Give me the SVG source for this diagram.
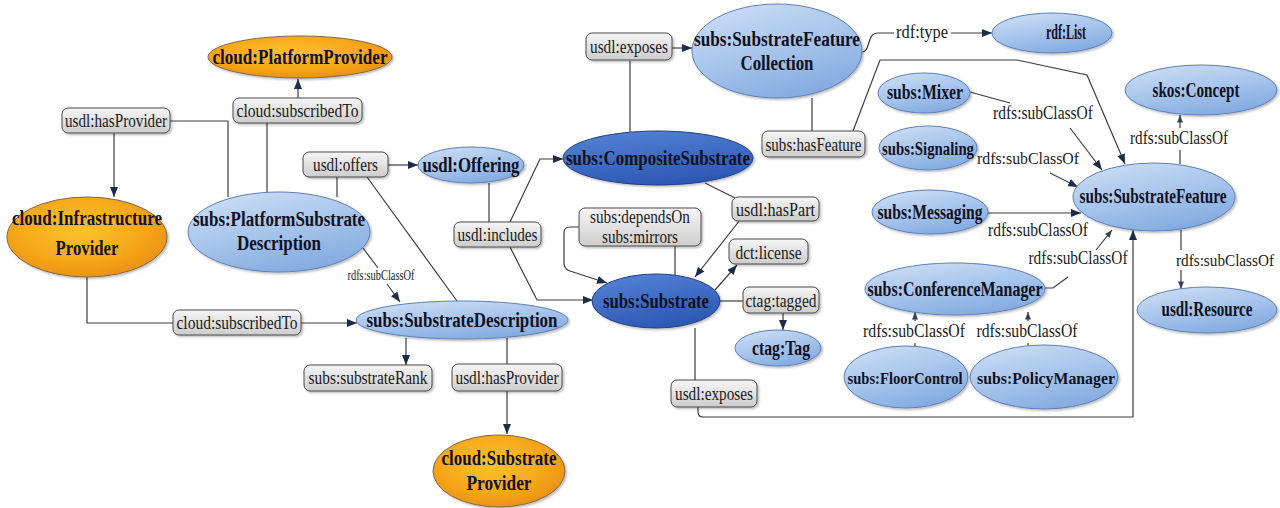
<svg xmlns="http://www.w3.org/2000/svg" width="1280" height="508" viewBox="0 0 1280 508">
  <style>
    .edge { fill: none; stroke: #3c3c3c; stroke-width: 1.2; }
    .arr { marker-end: url(#head); }
    .arrs { marker-end: url(#headS); }
    .lbl rect { fill: url(#gLbl); stroke: #4a4a4a; stroke-width: 1; filter: url(#shadow); }
    .lt { font-family: 'Liberation Serif', 'DejaVu Serif', 'Times New Roman', serif; font-size: 18px; fill: #1a1a1a; text-anchor: middle; }
    .st { font-family: 'Liberation Serif', 'DejaVu Serif', 'Times New Roman', serif; font-size: 14px; fill: #1a1a1a; text-anchor: middle; }
    .nt { font-family: 'Liberation Serif', 'DejaVu Serif', 'Times New Roman', serif; font-size: 20px; font-weight: bold; fill: #111122; text-anchor: middle; }
    .tight { font-size: 18px; }
    .tighter { font-size: 17px; }
    .orange { fill: url(#gOrange); stroke: #7d6a4c; stroke-width: 1; filter: url(#shadow); }
    .light { fill: url(#gLight); stroke: #5f80b6; stroke-width: 1; filter: url(#shadow); }
    .dark { fill: url(#gDark); stroke: #22407e; stroke-width: 1; filter: url(#shadow); }
  </style>
  <defs>
    <marker id="head" viewBox="0 0 10 8" refX="10" refY="4" markerWidth="10" markerHeight="8" markerUnits="userSpaceOnUse" orient="auto">
      <path d="M0,0 L10,4 L0,8 z" fill="#1c2c48"/>
    </marker>
    <marker id="headS" viewBox="0 0 10 8" refX="10" refY="4" markerWidth="8" markerHeight="6" markerUnits="userSpaceOnUse" orient="auto">
      <path d="M0,0 L10,4 L0,8 z" fill="#3a4250"/>
    </marker>
    <linearGradient id="gLbl" x1="0" y1="0" x2="0" y2="1">
      <stop offset="0" stop-color="#f6f6f6"/>
      <stop offset="1" stop-color="#cdcdcd"/>
    </linearGradient>
    <linearGradient id="gLight" x1="0.1" y1="0" x2="0.6" y2="1">
      <stop offset="0" stop-color="#cddff5"/>
      <stop offset="0.55" stop-color="#a6c4ec"/>
      <stop offset="1" stop-color="#84abe0"/>
    </linearGradient>
    <linearGradient id="gDark" x1="0.1" y1="0" x2="0.5" y2="1">
      <stop offset="0" stop-color="#5583d6"/>
      <stop offset="1" stop-color="#2d58b4"/>
    </linearGradient>
    <radialGradient id="gOrange" cx="0.45" cy="0.4" r="0.65">
      <stop offset="0" stop-color="#fcc22e"/>
      <stop offset="0.6" stop-color="#f6a81a"/>
      <stop offset="1" stop-color="#e88e10"/>
    </radialGradient>
    <filter id="shadow" x="-10%" y="-10%" width="125%" height="130%">
      <feDropShadow dx="1.5" dy="1.5" stdDeviation="1.2" flood-color="#000" flood-opacity="0.28"/>
    </filter>
  </defs>

  <rect width="1280" height="508" fill="#ffffff"/>

  <!-- connectors -->
  <g id="connectors">
    <path class="edge" d="M228,197 V121 H170"/>
    <path class="edge arr" d="M114,133 V197"/>
    <path class="edge" d="M267,192 V123"/>
    <path class="edge arr" d="M298,98 V79"/>
    <path class="edge" d="M337,197 V177"/>
    <path class="edge arr" d="M388,165 H418"/>
    <path class="edge" d="M367,177 L457,301"/>
    <path class="edge" d="M363,248 L378,268"/>
    <path class="edge arr" d="M387,284 L400,302"/>
    <path class="edge" d="M87,277 V323 H173"/>
    <path class="edge arr" d="M301,323 H357"/>
    <path class="edge arr" d="M406,338 V365"/>
    <path class="edge" d="M507,338 V364"/>
    <path class="edge arr" d="M507,391 V434"/>
    <path class="edge" d="M489,183 V222"/>
    <path class="edge arr" d="M510,222 L540,159 H563"/>
    <path class="edge arr" d="M510,247 L537,300 H593"/>
    <path class="edge" d="M630,132 V61"/>
    <path class="edge arr" d="M672,48 H692"/>
    <path class="edge" d="M705,183 L735,198"/>
    <path class="edge arr" d="M740,220 L695,277"/>
    <path class="edge" d="M675,275 V246"/>
    <path class="edge arr" d="M579,227 H570 Q564,227 564,233 V263 Q564,269 570,271 L607,283"/>
    <path class="edge arr" d="M715,290 L737,265"/>
    <path class="edge" d="M720,301 H743"/>
    <path class="edge arr" d="M783,313 V330"/>
    <path class="edge" d="M695,328 V380"/>
    <path class="edge arr" d="M698,407 V412 Q698,417 703,417 H1133 V230"/>
    <path class="edge" d="M812,98 V131"/>
    <path class="edge arr" d="M853,131 L880,60 H1017 L1087,75 L1125,164"/>
    <path class="edge" d="M862,52 C871,52 866,33 878,33 H894"/>
    <path class="edge arr" d="M951,33 H992"/>
    <path class="edge" d="M970,92 L1010,103"/>
    <path class="edge arr" d="M1070,128 L1102,170"/>
    <path class="edge arr" d="M1050,173 L1078,187"/>
    <path class="edge arr" d="M988,213 H1081"/>
    <path class="edge" d="M1045,288 H1053 L1068,277"/>
    <path class="edge arrs" d="M1096,250 L1112,230"/>
    <path class="edge" d="M915,353 V343"/>
    <path class="edge arrs" d="M915,321 V312"/>
    <path class="edge" d="M1028,353 V343"/>
    <path class="edge arrs" d="M1028,321 V312"/>
    <path class="edge" d="M1180,164 V150"/>
    <path class="edge arrs" d="M1180,128 V115"/>
    <path class="edge" d="M1181,230 V250"/>
    <path class="edge arrs" d="M1181,270 V289"/>
  </g>

  <!-- property labels -->
  <g id="label-hasProvider-1" class="lbl"><rect x="62" y="108" width="108" height="25" rx="6"/><text class="lt" x="116" y="126.5" textLength="102" lengthAdjust="spacingAndGlyphs">usdl:hasProvider</text></g>
  <g id="label-subscribedTo-1" class="lbl"><rect x="233" y="98" width="129" height="25" rx="6"/><text class="lt" x="297.5" y="116.5" textLength="122" lengthAdjust="spacingAndGlyphs">cloud:subscribedTo</text></g>
  <g id="label-offers" class="lbl"><rect x="303" y="152" width="85" height="25" rx="6"/><text class="lt" x="345.5" y="170.5" textLength="65" lengthAdjust="spacingAndGlyphs">usdl:offers</text></g>
  <g id="label-subscribedTo-2" class="lbl"><rect x="173" y="310" width="128" height="25" rx="6"/><text class="lt" x="237" y="328.5" textLength="121" lengthAdjust="spacingAndGlyphs">cloud:subscribedTo</text></g>
  <g id="label-substrateRank" class="lbl"><rect x="304" y="365" width="128" height="26" rx="6"/><text class="lt" x="368" y="383.5" textLength="119" lengthAdjust="spacingAndGlyphs">subs:substrateRank</text></g>
  <g id="label-hasProvider-2" class="lbl"><rect x="452" y="364" width="110" height="27" rx="6"/><text class="lt" x="507" y="383.5" textLength="103" lengthAdjust="spacingAndGlyphs">usdl:hasProvider</text></g>
  <g id="label-includes" class="lbl"><rect x="454" y="222" width="87" height="25" rx="6"/><text class="lt" x="497.5" y="240.5" textLength="80" lengthAdjust="spacingAndGlyphs">usdl:includes</text></g>
  <g id="label-exposes-1" class="lbl"><rect x="586" y="33" width="86" height="27" rx="6"/><text class="lt" x="629" y="52.5" textLength="78" lengthAdjust="spacingAndGlyphs">usdl:exposes</text></g>
  <g id="label-hasFeature" class="lbl"><rect x="762" y="131" width="103" height="26" rx="6"/><text class="lt" x="813.5" y="150.5" textLength="96" lengthAdjust="spacingAndGlyphs">subs:hasFeature</text></g>
  <g id="label-hasPart" class="lbl"><rect x="732" y="197" width="87" height="24" rx="6"/><text class="lt" x="775.5" y="215.5" textLength="79" lengthAdjust="spacingAndGlyphs">usdl:hasPart</text></g>
  <g id="label-dependsOn" class="lbl"><rect x="579" y="208" width="122" height="38" rx="6"/><text class="lt" x="640" y="222.5" textLength="100" lengthAdjust="spacingAndGlyphs">subs:dependsOn</text><text class="lt" x="640" y="242.5" textLength="76" lengthAdjust="spacingAndGlyphs">subs:mirrors</text></g>
  <g id="label-license" class="lbl"><rect x="729" y="239" width="79" height="25" rx="6"/><text class="lt" x="768.5" y="258.5" textLength="66" lengthAdjust="spacingAndGlyphs">dct:license</text></g>
  <g id="label-tagged" class="lbl"><rect x="743" y="287" width="76" height="26" rx="6"/><text class="lt" x="781" y="306.5" textLength="71" lengthAdjust="spacingAndGlyphs">ctag:tagged</text></g>
  <g id="label-exposes-2" class="lbl"><rect x="671" y="380" width="86" height="27" rx="6"/><text class="lt" x="714" y="399.5" textLength="78" lengthAdjust="spacingAndGlyphs">usdl:exposes</text></g>

  <!-- plain edge texts -->
  <g id="edge-texts">
    <text class="st" x="381" y="280" textLength="67" lengthAdjust="spacingAndGlyphs">rdfs:subClassOf</text>
    <text class="lt" x="922" y="38" textLength="52" lengthAdjust="spacingAndGlyphs">rdf:type</text>
    <text class="lt" x="1043" y="119" textLength="100" lengthAdjust="spacingAndGlyphs">rdfs:subClassOf</text>
    <text class="lt" x="1028" y="164" style="font-size:16px" textLength="102" lengthAdjust="spacingAndGlyphs">rdfs:subClassOf</text>
    <text class="lt" x="1179" y="144" textLength="98" lengthAdjust="spacingAndGlyphs">rdfs:subClassOf</text>
    <text class="lt" x="1038" y="236" textLength="100" lengthAdjust="spacingAndGlyphs">rdfs:subClassOf</text>
    <text class="lt" x="1078" y="264" textLength="99" lengthAdjust="spacingAndGlyphs">rdfs:subClassOf</text>
    <text class="lt" x="1225" y="266" style="font-size:16px" textLength="98" lengthAdjust="spacingAndGlyphs">rdfs:subClassOf</text>
    <text class="lt" x="914" y="337" textLength="102" lengthAdjust="spacingAndGlyphs">rdfs:subClassOf</text>
    <text class="lt" x="1027" y="337" textLength="101" lengthAdjust="spacingAndGlyphs">rdfs:subClassOf</text>
  </g>

  <!-- nodes -->
  <g id="node-PlatformProvider"><ellipse class="orange" cx="300" cy="57" rx="92" ry="21"/><text class="nt" x="300" y="63.5" textLength="175" lengthAdjust="spacingAndGlyphs">cloud:PlatformProvider</text></g>
  <g id="node-InfrastructureProvider"><ellipse class="orange" cx="87" cy="237" rx="80" ry="40"/><text class="nt" x="87" y="225" textLength="150" lengthAdjust="spacingAndGlyphs">cloud:Infrastructure</text><text class="nt" x="87" y="255" textLength="63" lengthAdjust="spacingAndGlyphs">Provider</text></g>
  <g id="node-PlatformSubstrateDescription"><ellipse class="light" cx="279" cy="232" rx="91" ry="40"/><text class="nt" x="279" y="226" textLength="172" lengthAdjust="spacingAndGlyphs">subs:PlatformSubstrate</text><text class="nt" x="279" y="250" textLength="84" lengthAdjust="spacingAndGlyphs">Description</text></g>
  <g id="node-Offering"><ellipse class="light" cx="471" cy="165" rx="53" ry="18"/><text class="nt" x="471" y="171.5" textLength="97" lengthAdjust="spacingAndGlyphs">usdl:Offering</text></g>
  <g id="node-CompositeSubstrate"><ellipse class="dark" cx="658" cy="158" rx="95" ry="27"/><text class="nt" x="658" y="165" textLength="184" lengthAdjust="spacingAndGlyphs">subs:CompositeSubstrate</text></g>
  <g id="node-SubstrateFeatureCollection"><ellipse class="light" cx="777" cy="51" rx="85" ry="47"/><text class="nt" x="777" y="46" textLength="166" lengthAdjust="spacingAndGlyphs">subs:SubstrateFeature</text><text class="nt" x="777" y="70" textLength="73" lengthAdjust="spacingAndGlyphs">Collection</text></g>
  <g id="node-List"><ellipse class="light" cx="1052" cy="33" rx="60" ry="20"/><text class="nt" x="1066" y="39" textLength="40" lengthAdjust="spacingAndGlyphs">rdf:List</text></g>
  <g id="node-Mixer"><ellipse class="light" cx="924" cy="93" rx="46" ry="20"/><text class="nt" x="925" y="98.5" textLength="76" lengthAdjust="spacingAndGlyphs">subs:Mixer</text></g>
  <g id="node-Signaling"><ellipse class="light" cx="928" cy="148" rx="49" ry="22"/><text class="nt tight" x="928" y="155" textLength="92" lengthAdjust="spacingAndGlyphs">subs:Signaling</text></g>
  <g id="node-Messaging"><ellipse class="light" cx="930" cy="212" rx="58" ry="22"/><text class="nt" x="930" y="219" textLength="105" lengthAdjust="spacingAndGlyphs">subs:Messaging</text></g>
  <g id="node-SubstrateFeature"><ellipse class="light" cx="1154" cy="197" rx="81" ry="34"/><text class="nt" x="1153" y="203" textLength="147" lengthAdjust="spacingAndGlyphs">subs:SubstrateFeature</text></g>
  <g id="node-Concept"><ellipse class="light" cx="1201" cy="90" rx="76" ry="25"/><text class="nt" x="1196" y="97" textLength="87" lengthAdjust="spacingAndGlyphs">skos:Concept</text></g>
  <g id="node-Resource"><ellipse class="light" cx="1207" cy="310" rx="70" ry="23"/><text class="nt" x="1207" y="316" textLength="91" lengthAdjust="spacingAndGlyphs">usdl:Resource</text></g>
  <g id="node-ConferenceManager"><ellipse class="light" cx="955" cy="289" rx="90" ry="26"/><text class="nt" x="955" y="295.5" textLength="175" lengthAdjust="spacingAndGlyphs">subs:ConferenceManager</text></g>
  <g id="node-FloorControl"><ellipse class="light" cx="906" cy="377" rx="62" ry="31"/><text class="nt tighter" x="905" y="384" textLength="115" lengthAdjust="spacingAndGlyphs">subs:FloorControl</text></g>
  <g id="node-PolicyManager"><ellipse class="light" cx="1044" cy="377" rx="74" ry="32"/><text class="nt tighter" x="1046" y="384" textLength="138" lengthAdjust="spacingAndGlyphs">subs:PolicyManager</text></g>
  <g id="node-Substrate"><ellipse class="dark" cx="656" cy="301" rx="64" ry="27"/><text class="nt" x="656" y="308" textLength="106" lengthAdjust="spacingAndGlyphs">subs:Substrate</text></g>
  <g id="node-Tag"><ellipse class="light" cx="778" cy="348" rx="43" ry="18"/><text class="nt" x="781" y="354.5" textLength="58" lengthAdjust="spacingAndGlyphs">ctag:Tag</text></g>
  <g id="node-SubstrateDescription"><ellipse class="light" cx="462" cy="320" rx="106" ry="19"/><text class="nt" x="462" y="327" textLength="191" lengthAdjust="spacingAndGlyphs">subs:SubstrateDescription</text></g>
  <g id="node-SubstrateProvider"><ellipse class="orange" cx="499" cy="471" rx="66" ry="36"/><text class="nt" x="499" y="465" textLength="115" lengthAdjust="spacingAndGlyphs">cloud:Substrate</text><text class="nt" x="499" y="490" textLength="65" lengthAdjust="spacingAndGlyphs">Provider</text></g>
</svg>
